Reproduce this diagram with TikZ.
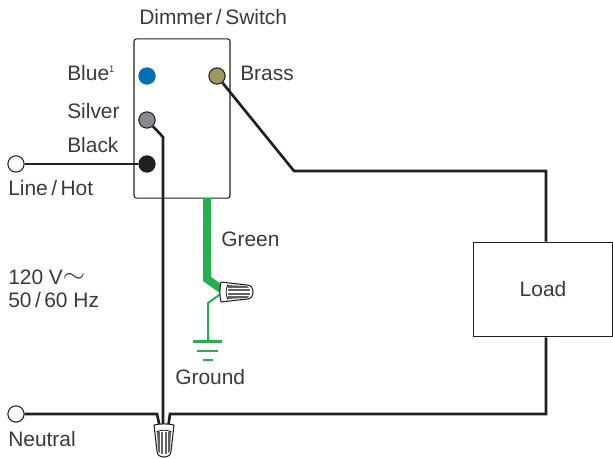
\documentclass[tikz,border=0pt]{standalone}
\usepackage{fontspec}
\setmainfont{Liberation Sans}
\definecolor{ink}{HTML}{231F20}
\definecolor{txt}{HTML}{3A3A3C}
\definecolor{grn}{HTML}{22B14C}
\tikzset{
  lbl/.style={font=\fontsize{15.7pt}{18pt}\selectfont,text=txt,inner sep=0pt,anchor=base west},
  term/.style={circle,draw=ink,line width=0.8pt,minimum size=12.2pt,inner sep=0pt},
  wire/.style={draw=ink,line width=2pt,line join=miter},
  box/.style={draw=ink,line width=0.8pt,fill=white,inner sep=0pt},
  gthin/.style={draw=grn,line width=1.5pt},
}
\newcommand{\wirenut}[3]{% x,y,rot: open end at origin, pointing along +x
  \begin{scope}[shift={(#1,#2)},rotate=#3]
    \draw[ink,line width=0.8pt,fill=white,line join=round]
      (0,-10) .. controls (-1.5,-3) and (-1.5,3) .. (0,10)
      -- (26,7) .. controls (30,7) and (32,4) .. (32,0)
      .. controls (32,-4) and (30,-7) .. (26,-7) -- cycle;
    \fill[ink!70] (6,-7) -- (26,-6) -- (28,-4) -- (7,-4.2) -- cycle;
    \fill[ink!70] (7,-2.8) -- (29,-2.8) -- (29,-0.8) -- (7,-0.8) -- cycle;
    \fill[ink!70] (7,0.8) -- (29,0.8) -- (29,2.8) -- (7,2.8) -- cycle;
    \fill[ink!70] (7,4.2) -- (28,4) -- (26,6) -- (6,7) -- cycle;
    \draw[ink,line width=0.6pt] (7,-7.5) .. controls (4.5,-3) and (4.5,3) .. (7,7.5);
  \end{scope}}
\begin{document}
\begin{tikzpicture}[x=0.75pt,y=-0.75pt]
\useasboundingbox (0,0) rectangle (613,458);
% bodies
\node[box,rounded corners=2pt,minimum width=72pt,minimum height=119.5pt] (sw) at (182,118.5) {};
\node[box,minimum width=104.5pt,minimum height=71pt,font=\fontsize{15.7pt}{18pt}\selectfont,text=txt] (load) at (543,289.5) {Load};
% terminals
\node[term,fill={rgb,255:red,0;green,110;blue,185},draw={rgb,255:red,0;green,110;blue,185}] (blue) at (147,76) {};
\node[term,fill={rgb,255:red,160;green,150;blue,95}] (brass) at (217,76) {};
\node[term,fill={rgb,255:red,135;green,138;blue,142}] (silver) at (147,120) {};
\node[term,fill=ink] (black) at (147,164) {};
\node[term,fill=white] (line) at (16,164) {};
\node[term,fill=white] (neutral) at (16,414) {};
% waypoints
\coordinate (s1) at (163,137);
\coordinate (s2) at (163,430);
\coordinate (b1) at (294,171);
\coordinate (b2) at (546,171);
\coordinate (l1) at (546,414);
\coordinate (l2) at (170,414);
\coordinate (l3) at (168,428);
\coordinate (n1) at (157,414);
\coordinate (n2) at (160,428);
\coordinate (g0) at (207,198);
\coordinate (g1) at (207,279);
\coordinate (g2) at (224,291);
\coordinate (t1) at (222,293);
\coordinate (t2) at (208,303);
\coordinate (t3) at (208,341.5);
% wires
\draw[wire] (line) -- (black);
\draw[wire] (silver) -- (s1) -- (s2);
\draw[wire] (brass) -- (b1) -- (b2) -- (load.north -| b2);
\draw[wire] (load.south -| l1) -- (l1) -- (l2) -- (l3);
\draw[wire] (neutral) -- (n1) -- (n2);
\draw[grn,line width=6pt,line join=miter] (g0) -- (g1) -- (g2);
\draw[gthin] (t1) -- (t2) -- (t3);
% ground symbol
\coordinate (ga) at (193,341.5); \coordinate (gb) at (222,341.5);
\coordinate (gc) at (197,351); \coordinate (gd) at (218,351);
\coordinate (ge) at (203,360); \coordinate (gf) at (213,360);
\draw[gthin,line width=2pt] (ga) -- (gb) (gc) -- (gd) (ge) -- (gf);
% wire nuts
\wirenut{221}{292}{0}
\wirenut{164}{425}{-90}
% labels
\node[lbl] (tsw) at (139,24) {Dimmer\,/\,Switch};
\node[lbl] (tbl) at (67,80) {Blue\raisebox{6pt}{\fontsize{7pt}{7pt}\selectfont 1}};
\node[lbl] (tbr) at (240,80) {Brass};
\node[lbl] (tsi) at (67,118) {Silver};
\node[lbl] (tbk) at (67,152) {Black};
\node[lbl] (tlh) at (8,195) {Line\,/\,Hot};
\node[lbl] (tgr) at (221,246) {Green};
\node[lbl] (tgd) at (175,384) {Ground};
\node[lbl] (tv) at (8,284) {120 V\raisebox{1pt}{\scalebox{1.5}[1.3]{$\sim$}}};
\node[lbl] (thz) at (8,307) {50\,/\,60 Hz};
\node[lbl] (tne) at (8,446) {Neutral};
\end{tikzpicture}
\end{document}
